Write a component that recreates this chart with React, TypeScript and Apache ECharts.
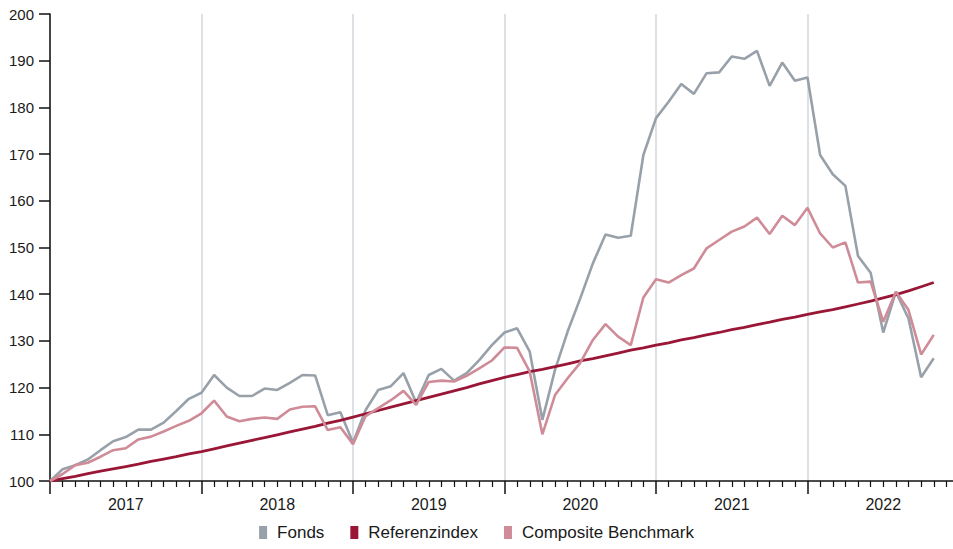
import React, { useEffect, useRef } from 'react';
import * as echarts from 'echarts';

// Monthly index values, Dec 2016 (index 0) .. Oct 2022 (index 70)
const yearLabels = ['2017', '2018', '2019', '2020', '2021', '2022'];

const fonds = [
  100, 102.5, 103.4, 104.6, 106.6, 108.5, 109.4, 111.0, 111.0, 112.5, 115.0, 117.6, 118.9,
  122.7, 120.0, 118.2, 118.2, 119.8, 119.5, 121.0, 122.7, 122.6, 114.1, 114.7, 108.2,
  115.2, 119.5, 120.3, 123.1, 116.8, 122.7, 124.0, 121.5, 123.1, 125.9, 129.1, 131.8,
  132.7, 127.7, 113.1, 123.8, 132.0, 139.1, 146.6, 152.8, 152.1, 152.5, 169.8, 177.7,
  181.2, 185.0, 182.9, 187.3, 187.5, 190.9, 190.4, 192.1, 184.6, 189.6, 185.7, 186.4,
  169.8, 165.7, 163.2, 148.2, 144.6, 131.8, 140.5, 134.8, 122.2, 126.3,
];

const referenzindex = [
  100, 100.5, 101.0, 101.6, 102.1, 102.6, 103.1, 103.6, 104.2, 104.7, 105.2, 105.8, 106.3,
  106.9, 107.5, 108.1, 108.7, 109.3, 109.9, 110.5, 111.1, 111.7, 112.4, 113.0, 113.7,
  114.4, 115.1, 115.8, 116.5, 117.2, 117.9, 118.6, 119.3, 120.0, 120.8, 121.5, 122.2,
  122.8, 123.4, 123.9, 124.5, 125.1, 125.7, 126.2, 126.8, 127.4, 128.0, 128.5, 129.1,
  129.6, 130.2, 130.7, 131.3, 131.8, 132.4, 132.9, 133.5, 134.0, 134.6, 135.1, 135.7,
  136.2, 136.7, 137.3, 137.9, 138.5, 139.2, 139.9, 140.7, 141.6, 142.5,
];

const composite = [
  100, 101.5, 103.4, 103.9, 105.2, 106.6, 107.0, 108.9, 109.5, 110.6, 111.8, 112.9, 114.5,
  117.2, 113.8, 112.8, 113.3, 113.6, 113.3, 115.3, 115.9, 116.0, 110.9, 111.5, 107.9,
  113.9, 115.6, 117.3, 119.3, 116.3, 121.2, 121.5, 121.3, 122.5, 124.1, 125.8, 128.6,
  128.5, 123.4, 110.0, 118.4, 122.0, 125.3, 130.2, 133.6, 130.9, 129.1, 139.3, 143.2,
  142.5, 144.1, 145.5, 149.8, 151.6, 153.4, 154.5, 156.4, 152.9, 156.8, 154.8, 158.5,
  153.0, 150.0, 151.1, 142.5, 142.7, 134.1, 140.5, 136.6, 127.1, 131.3,
];

const FONT = "'Liberation Sans', Arial, sans-serif";
const TEXT = '#1a1a1a';

export default function App() {
  const ref = useRef<HTMLDivElement>(null);

  useEffect(() => {
    if (!ref.current) return;
    const chart = echarts.init(ref.current, null, { renderer: 'svg' });
    const pairs = (arr: number[]) => arr.map((v, i) => [i, v]);

    chart.setOption({
      animation: false,
      backgroundColor: '#ffffff',
      grid: {
        left: 50,
        width: 909,
        top: 14,
        height: 467,
        containLabel: false,
        outerBoundsMode: 'none',
      },
      legend: {
        bottom: 3,
        left: 'center',
        icon: 'rect',
        itemWidth: 8,
        itemHeight: 13,
        itemGap: 26,
        textStyle: { fontFamily: FONT, fontSize: 17, color: TEXT, padding: [0, 0, 0, 5] },
        data: ['Fonds', 'Referenzindex', 'Composite Benchmark'],
      },
      xAxis: [
        {
          type: 'value',
          min: 0,
          max: 72,
          interval: 12,
          axisLine: { show: true, onZero: false, lineStyle: { color: '#111', width: 1.5 } },
          axisTick: { show: true, length: 13, lineStyle: { color: '#111', width: 1.5 } },
          minorTick: { show: true, splitNumber: 12, length: 6, lineStyle: { color: '#111', width: 1.2 } },
          axisLabel: { show: false },
          splitLine: { show: true, lineStyle: { color: '#d2d7dc', width: 1.5 } },
        },
        {
          type: 'value',
          position: 'bottom',
          min: 0,
          max: 72,
          interval: 6,
          axisLine: { show: false },
          axisTick: { show: false },
          splitLine: { show: false },
          axisLabel: {
            show: true,
            margin: 15,
            fontFamily: FONT,
            fontSize: 16,
            color: TEXT,
            formatter: (v: number) => {
              const k = Math.round(v);
              if (k % 12 === 6) return yearLabels[(k - 6) / 12] ?? '';
              return '';
            },
          },
        },
      ],
      yAxis: {
        type: 'value',
        min: 100,
        max: 200,
        interval: 10,
        axisLine: { show: true, onZero: false, lineStyle: { color: '#111', width: 1.5 } },
        axisTick: { show: true, length: 11, lineStyle: { color: '#111', width: 1.5 } },
        axisLabel: { margin: 16, fontFamily: FONT, fontSize: 15, color: TEXT },
        splitLine: { show: false },
      },
      series: [
        {
          name: 'Fonds',
          type: 'line',
          xAxisIndex: 0,
          data: pairs(fonds),
          symbol: 'none',
          color: '#98a1a9',
          lineStyle: { width: 2.6, color: '#98a1a9' },
        },
        {
          name: 'Referenzindex',
          type: 'line',
          xAxisIndex: 0,
          data: pairs(referenzindex),
          symbol: 'none',
          color: '#9a1636',
          lineStyle: { width: 2.8, color: '#9a1636' },
        },
        {
          name: 'Composite Benchmark',
          type: 'line',
          xAxisIndex: 0,
          data: pairs(composite),
          symbol: 'none',
          color: '#cf8c98',
          lineStyle: { width: 2.6, color: '#cf8c98' },
        },
      ],
    });

    return () => chart.dispose();
  }, []);

  return (
    <div
      ref={ref}
      style={{ position: 'fixed', left: 0, top: 0, width: 953, height: 549, background: '#fff' }}
    />
  );
}
